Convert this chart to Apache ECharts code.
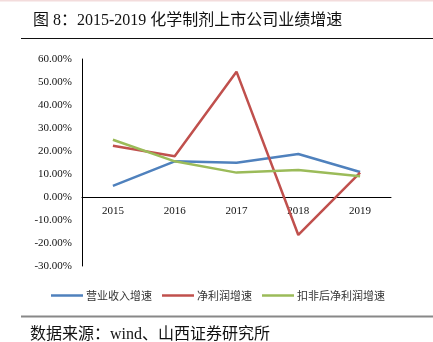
<!DOCTYPE html>
<html>
<head>
<meta charset="utf-8">
<script src="https://cdn.jsdelivr.net/npm/echarts@6/dist/echarts.min.js"></script>
<style>
html,body{margin:0;padding:0;background:#fff;}
#c{width:433px;height:342px;}
</style>
</head>
<body>
<div id="c"></div>
<script>
const categories = ['2015', '2016', '2017', '2018', '2019'];
const revenueGrowth = [4.8, 15.5, 14.9, 18.7, 10.9];
const profitGrowth = [22.3, 17.7, 54.5, -16.5, 10.6];
const deductedProfitGrowth = [24.9, 15.5, 10.6, 11.7, 9.0];
const seriesNames = ['营业收入增速', '净利润增速', '扣非后净利润增速'];
const titleText = '图 8：2015-2019 化学制剂上市公司业绩增速';
const sourceText = '数据来源：wind、山西证券研究所';

const chart = echarts.init(document.getElementById('c'), null, {renderer: 'canvas'});
const serif = '"Liberation Serif", "Noto Sans CJK SC", serif';
const cjk = '"Liberation Serif", "Noto Sans CJK SC", sans-serif';
const colors = ['#4F81BD', '#C0504D', '#9BBB59'];
chart.setOption({
  animation: false,
  backgroundColor: '#fff',
  title: {
    text: titleText,
    left: 28, top: 8,
    textStyle: {fontFamily: cjk, fontSize: 16, fontWeight: 'normal', color: '#111'}
  },
  graphic: [
    {type: 'rect', shape: {x: 0, y: 0, width: 433, height: 1.5}, style: {fill: '#f3dcdc'}},
    {type: 'line', shape: {x1: 21, y1: 38.5, x2: 433, y2: 38.5}, style: {stroke: '#111', lineWidth: 1}},
    {type: 'line', shape: {x1: 21, y1: 316.5, x2: 433, y2: 316.5}, style: {stroke: '#888', lineWidth: 2}},
    {type: 'text', left: 30, top: 327, style: {text: sourceText, font: '16px "Liberation Serif", "Noto Sans CJK SC"', fill: '#111'}}
  ],
  color: colors,
  legend: {
    left: 46, top: 285,
    icon: 'rect',
    itemWidth: 32, itemHeight: 2.5,
    itemGap: 10,
    textStyle: {fontFamily: '"Noto Sans CJK SC"', fontSize: 11, color: '#333', padding: [0,0,0,-2]},
    data: seriesNames
  },
  grid: {left: 82, right: 42, top: 59, bottom: 76, containLabel: false},
  xAxis: {
    type: 'category',
    data: categories,
    boundaryGap: true,
    axisLine: {onZero: true, lineStyle: {color: '#000', width: 1}},
    axisTick: {show: false},
    axisLabel: {fontFamily: serif, fontSize: 11, color: '#111', margin: -60}
  },
  yAxis: {
    type: 'value',
    min: -30, max: 60, interval: 10,
    axisLine: {show: true, lineStyle: {color: '#000', width: 1}},
    axisTick: {show: false},
    splitLine: {show: false},
    axisLabel: {fontFamily: serif, fontSize: 11, color: '#111', margin: 10,
      formatter: v => v.toFixed(2) + '%'}
  },
  series: [
    {name: seriesNames[0], type: 'line', data: revenueGrowth, symbol: 'none', lineStyle: {width: 2.5, color: colors[0]}},
    {name: seriesNames[1], type: 'line', data: profitGrowth, symbol: 'none', lineStyle: {width: 2.5, color: colors[1]}},
    {name: seriesNames[2], type: 'line', data: deductedProfitGrowth, symbol: 'none', lineStyle: {width: 2.5, color: colors[2]}}
  ]
});
</script>
</body>
</html>
